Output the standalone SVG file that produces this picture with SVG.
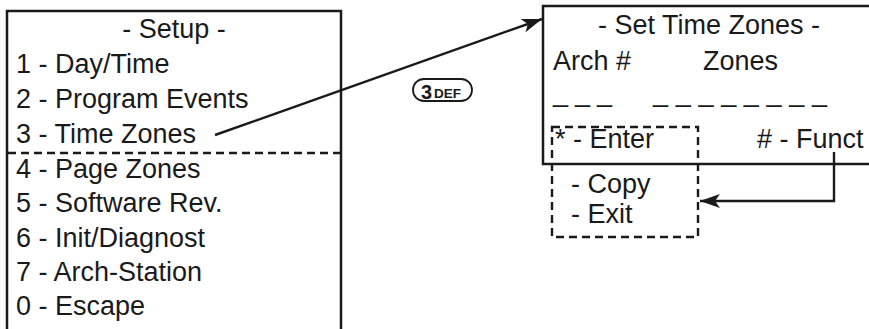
<svg xmlns="http://www.w3.org/2000/svg" width="869" height="329" viewBox="0 0 869 329">
<defs>
<style>
.t{font-family:"Liberation Sans",Arial,sans-serif;font-size:27px;fill:#1a1a1a}
.box{fill:none;stroke:#1a1a1a;stroke-width:2.5}
.dash{fill:none;stroke:#1a1a1a;stroke-width:2.4;stroke-dasharray:8,5}
.ln{fill:none;stroke:#1a1a1a;stroke-width:2.4}
</style>
<marker id="ah" viewBox="0 0 20 14" refX="20" refY="7" markerWidth="20" markerHeight="14" markerUnits="userSpaceOnUse" orient="auto">
<path d="M0,0 L20,7 L0,14 L5,7 Z" fill="#1a1a1a"/>
</marker>
</defs>
<rect width="869" height="329" fill="#fff"/>
<g id="setup">
<rect class="box" x="7" y="11" width="334" height="330"/>
<line class="dash" x1="8" y1="153" x2="340" y2="153"/>
<text class="t" x="174" y="38" text-anchor="middle">- Setup -</text>
<text class="t" x="16" y="73">1 - Day/Time</text>
<text class="t" x="16" y="108">2 - Program Events</text>
<text class="t" x="16" y="143">3 - Time Zones</text>
<text class="t" x="16" y="178">4 - Page Zones</text>
<text class="t" x="16" y="212">5 - Software Rev.</text>
<text class="t" x="16" y="247">6 - Init/Diagnost</text>
<text class="t" x="16" y="281">7 - Arch-Station</text>
<text class="t" x="16" y="315">0 - Escape</text>
</g>
<g id="timezones">
<rect class="box" x="543" y="6" width="340" height="158"/>
<text class="t" x="709" y="34" text-anchor="middle">- Set Time Zones -</text>
<text class="t" x="553" y="70">Arch #</text>
<text class="t" x="703" y="70">Zones</text>
<text class="t" x="553" y="101" textLength="59" lengthAdjust="spacing">_ _ _</text>
<text class="t" x="653" y="101" textLength="174" lengthAdjust="spacing">_ _ _ _ _ _ _ _</text>
<text class="t" x="555" y="148">* - Enter</text>
<text class="t" x="757" y="148"># - Funct</text>
</g>
<g id="functions">
<rect class="dash" x="552" y="127" width="146" height="110"/>
<text class="t" x="571" y="193">- Copy</text>
<text class="t" x="571" y="223">- Exit</text>
</g>
<g id="key3">
<rect x="413" y="79" width="59" height="22" rx="11" ry="11" fill="#fff" stroke="#1a1a1a" stroke-width="1.8"/>
<text x="421" y="98.5" font-family="Liberation Sans,Arial,sans-serif" font-weight="bold" font-size="20" fill="#1a1a1a">3</text>
<text x="434" y="98" font-family="Liberation Sans,Arial,sans-serif" font-weight="bold" font-size="13.5" fill="#1a1a1a">DEF</text>
</g>
<g id="connectors">
<line class="ln" x1="215" y1="135" x2="542" y2="19" marker-end="url(#ah)"/>
<polyline class="ln" points="834,152 834,201 700,201" marker-end="url(#ah)"/>
</g>
</svg>
